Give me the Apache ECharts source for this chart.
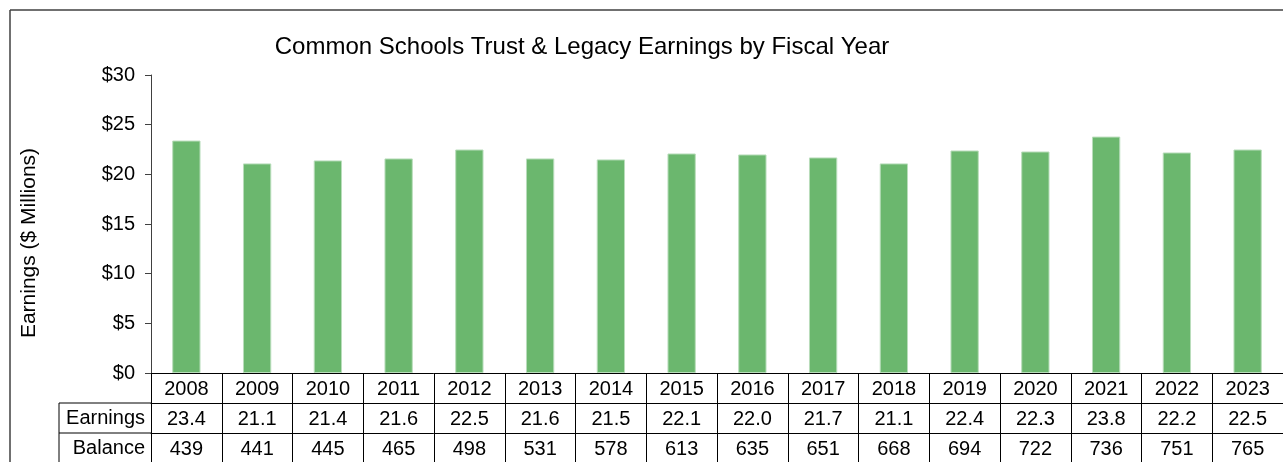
<!DOCTYPE html>
<html>
<head>
<meta charset="utf-8">
<script src="https://cdn.jsdelivr.net/npm/echarts@6/dist/echarts.min.js"></script>
<style>
  html, body { margin: 0; padding: 0; background: #fff; overflow: hidden; }
  #chart { width: 1283px; height: 462px; }
</style>
</head>
<body>
<div id="chart"></div>
<script>
const years = ['2008', '2009', '2010', '2011', '2012', '2013', '2014', '2015',
  '2016', '2017', '2018', '2019', '2020', '2021', '2022', '2023'];
const earnings = [23.4, 21.1, 21.4, 21.6, 22.5, 21.6, 21.5, 22.1, 22.0, 21.7, 21.1, 22.4, 22.3, 23.8, 22.2, 22.5];
const balance = [439, 441, 445, 465, 498, 531, 578, 613, 635, 651, 668, 694, 722, 736, 751, 765];
const yTicks = { min: 0, max: 30, step: 5 };

const FONT = "'Liberation Sans', Arial, sans-serif";
const INK = '#000';

function tableAxis(data, offset, name, showTicks) {
  return {
    type: 'category',
    gridIndex: 0,
    position: 'bottom',
    offset: offset,
    data: data,
    axisLine: { show: true, lineStyle: { color: INK, width: 1 } },
    axisTick: showTicks
      ? { show: true, interval: 0, length: 95, lineStyle: { color: INK, width: 1 } }
      : { show: false },
    axisLabel: { interval: 0, margin: 6, fontSize: 20, color: INK, fontFamily: FONT },
    name: name,
    nameLocation: 'start',
    nameGap: 6,
    nameTextStyle: { fontSize: 20, color: INK, fontFamily: FONT, verticalAlign: 'top', padding: [5, 0, 0, 0] },
  };
}

const chart = echarts.init(document.getElementById('chart'), null, { renderer: 'canvas' });
chart.setOption({
  backgroundColor: '#fff',
  animation: false,
  title: {
    text: 'Common Schools Trust & Legacy Earnings by Fiscal Year',
    left: 577,
    top: 30,
    textAlign: 'center',
    textStyle: { fontSize: 24, fontWeight: 'normal', color: INK, fontFamily: FONT },
  },
  grid: { left: 151, right: 0, top: 75, bottom: 89, containLabel: false },
  xAxis: [
    tableAxis(years, 0, '', true),
    tableAxis(earnings.map((v) => v.toFixed(1)), 30, 'Earnings', false),
    tableAxis(balance.map(String), 60, 'Balance', false),
  ],
  yAxis: {
    type: 'value',
    min: yTicks.min,
    max: yTicks.max,
    interval: yTicks.step,
    name: 'Earnings ($ Millions)',
    nameLocation: 'middle',
    nameGap: 111,
    nameTextStyle: { fontSize: 21, color: INK, fontFamily: FONT, padding: [0, 38, 0, 0] },
    axisLine: { show: true, lineStyle: { color: '#404040', width: 1 } },
    axisTick: { show: true, length: 6, lineStyle: { color: '#404040' } },
    axisLabel: { fontSize: 20, color: INK, fontFamily: FONT, margin: 16, formatter: (v) => '$' + v },
    splitLine: { show: false },
  },
  series: [{
    type: 'bar',
    xAxisIndex: 0,
    data: earnings,
    barWidth: '40%',
    itemStyle: { color: '#6BB76E', borderColor: '#B9DDBB', borderWidth: 1 },
  }],
  graphic: [
    { type: 'line', shape: { x1: 10, y1: 10, x2: 1300, y2: 10 }, style: { stroke: '#404040', lineWidth: 1.5 } },
    { type: 'line', shape: { x1: 10, y1: 10, x2: 10, y2: 470 }, style: { stroke: '#404040', lineWidth: 1.5 } },
    { type: 'line', shape: { x1: 59, y1: 403, x2: 151, y2: 403 }, style: { stroke: INK, lineWidth: 1 } },
    { type: 'line', shape: { x1: 59, y1: 433, x2: 151, y2: 433 }, style: { stroke: INK, lineWidth: 1 } },
    { type: 'line', shape: { x1: 59, y1: 403, x2: 59, y2: 470 }, style: { stroke: INK, lineWidth: 1 } },
  ],
});
</script>
</body>
</html>
